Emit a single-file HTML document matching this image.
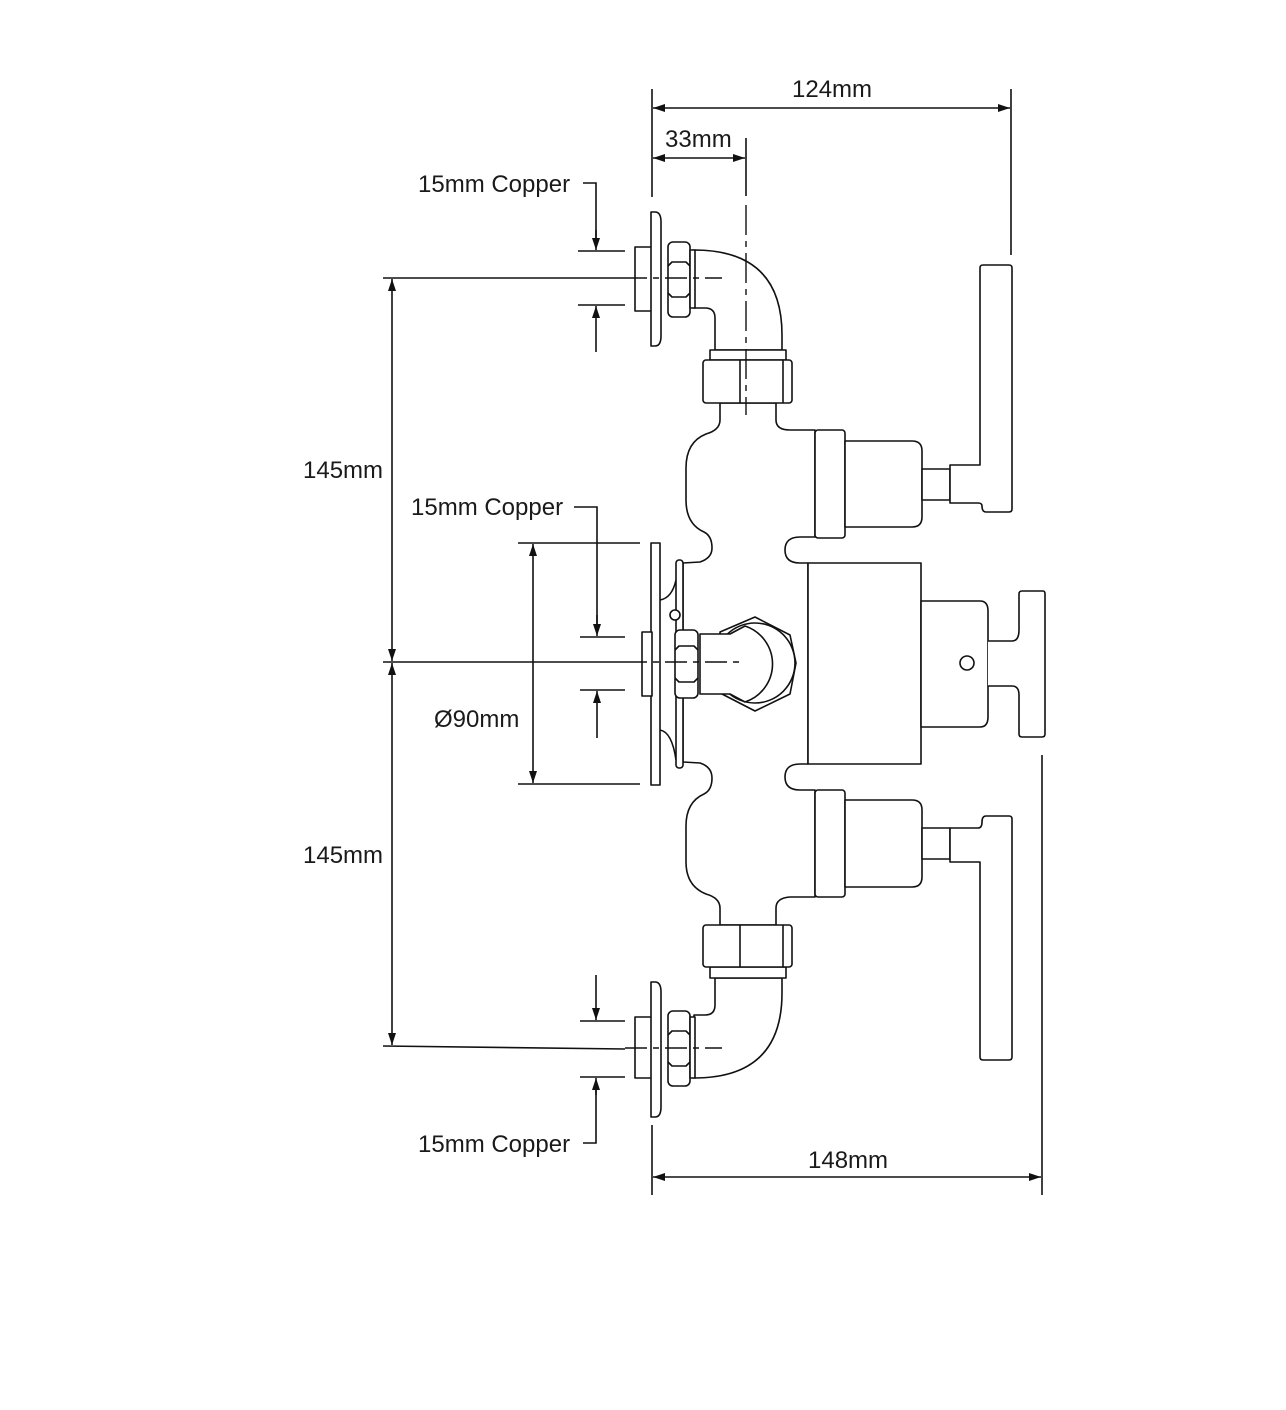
<!DOCTYPE html>
<html><head><meta charset="utf-8"><style>
html,body{margin:0;padding:0;background:#fff;}
svg{display:block}
text{font-family:"Liberation Sans",sans-serif;font-size:24px;fill:#1a1a1a}
</style></head><body>
<svg width="1286" height="1410" viewBox="0 0 1286 1410" xmlns="http://www.w3.org/2000/svg">
<defs>
<marker id="a" viewBox="0 0 12 8" refX="12" refY="4" markerWidth="12" markerHeight="8" orient="auto-start-reverse" markerUnits="userSpaceOnUse"><path d="M0,0 L12,4 L0,8 z" fill="#111"/></marker>
</defs>
<g fill="none" stroke="#111" stroke-width="1.6">
<line x1="652" y1="89" x2="652" y2="197"/>
<line x1="1011" y1="89" x2="1011" y2="255"/>
<line x1="653" y1="108" x2="1010" y2="108" marker-start="url(#a)" marker-end="url(#a)"/>
<line x1="746" y1="138" x2="746" y2="196"/>
<line x1="653" y1="158" x2="745" y2="158" marker-start="url(#a)" marker-end="url(#a)"/>
<line x1="652" y1="1125" x2="652" y2="1195"/>
<line x1="1042" y1="755" x2="1042" y2="1195"/>
<line x1="653" y1="1177" x2="1041" y2="1177" marker-start="url(#a)" marker-end="url(#a)"/>
<line x1="383" y1="278" x2="625" y2="278"/>
<line x1="383" y1="662" x2="625" y2="662"/>
<line x1="383" y1="1046" x2="625" y2="1049"/>
<line x1="392" y1="279" x2="392" y2="661" marker-start="url(#a)" marker-end="url(#a)"/>
<line x1="392" y1="663" x2="392" y2="1045" marker-start="url(#a)" marker-end="url(#a)"/>
<line x1="518" y1="543" x2="640" y2="543"/>
<line x1="518" y1="784" x2="640" y2="784"/>
<line x1="533" y1="544" x2="533" y2="783" marker-start="url(#a)" marker-end="url(#a)"/>
<polyline points="583,183 596,183 596,240"/>
<line x1="596" y1="230" x2="596" y2="250" marker-end="url(#a)"/>
<line x1="578" y1="251" x2="625" y2="251"/><line x1="578" y1="305" x2="625" y2="305"/>
<line x1="596" y1="352" x2="596" y2="306" marker-end="url(#a)"/>
<polyline points="574,507 597,507 597,625"/>
<line x1="597" y1="615" x2="597" y2="636" marker-end="url(#a)"/>
<line x1="580" y1="637" x2="625" y2="637"/><line x1="580" y1="690" x2="625" y2="690"/>
<line x1="597" y1="738" x2="597" y2="691" marker-end="url(#a)"/>
<polyline points="583,1143 596,1143 596,1090"/>
<line x1="596" y1="1095" x2="596" y2="1078" marker-end="url(#a)"/>
<line x1="580" y1="1021" x2="625" y2="1021"/><line x1="580" y1="1077" x2="625" y2="1077"/>
<line x1="596" y1="975" x2="596" y2="1020" marker-end="url(#a)"/>
</g>
<g fill="#fff" stroke="#111" stroke-width="1.6" stroke-linejoin="round">
<path d="M720,403 V420 Q720,430 706,434 Q686,442 686,468 V500 Q686,524 704,532 Q712,536 712,548 Q712,558 700,562 L683,563 V762 L700,763 Q712,767 712,778 Q712,790 704,794 Q686,802 686,826 V862 Q686,886 706,894 Q720,898 720,908 V925 H776 V908 Q776,898 790,897 H815 V790 H800 Q785,790 785,777 Q785,764 800,764 H808 V563 H800 Q785,563 785,550 Q785,537 800,537 H815 V430 H790 Q776,430 776,420 V403 Z"/>
<rect x="815" y="430" width="30" height="108" rx="3"/>
<path d="M845,441 H912 Q922,441 922,451 V517 Q922,527 912,527 H845 Z"/>
<rect x="922" y="469" width="28" height="31"/>
<path d="M950,465 H980 V268 Q980,265 983,265 H1009 Q1012,265 1012,268 V509 Q1012,512 1009,512 H986 Q982,512 982,506 Q982,503 978,503 H950 Z"/>
<rect x="815" y="790" width="30" height="107" rx="3"/>
<path d="M845,800 H912 Q922,800 922,810 V877 Q922,887 912,887 H845 Z"/>
<rect x="922" y="828" width="28" height="31"/>
<path d="M950,828 H978 Q982,828 982,822 Q982,816 986,816 H1009 Q1012,816 1012,819 V1057 Q1012,1060 1009,1060 H983 Q980,1060 980,1057 V862 H950 Z"/>
<rect x="808" y="563" width="113" height="201"/>
<path d="M921,601 H980 Q988,601 988,611 V717 Q988,727 980,727 H921 Z"/>
<path d="M988,641 H1012 Q1019,641 1019,630 V594 Q1019,591 1022,591 H1043 Q1045,591 1045,594 V734 Q1045,737 1042,737 H1022 Q1019,737 1019,734 V695 Q1019,686 1012,686 H988"/>
<circle cx="967" cy="663" r="7"/>
<path d="M694,250 Q782,250 782,335 V350 H715 V318 Q715,308 705,308 H694 Z"/>
<rect x="710" y="350" width="76" height="10"/>
<rect x="703" y="360" width="89" height="43" rx="3"/>
<line x1="740" y1="360" x2="740" y2="403"/><line x1="783" y1="360" x2="783" y2="403"/>
<rect x="635" y="247" width="17" height="64"/>
<path d="M651,212 H655 Q661,212 661,222 V336 Q661,346 655,346 H651 Z"/>
<rect x="668" y="242" width="22" height="75" rx="5"/>
<path d="M668,266 L672,262 H686 L690,266 M668,293 L672,297 H686 L690,293" fill="none"/>
<rect x="690" y="250" width="5" height="58"/>
<path d="M694,1078 Q782,1078 782,993 V978 H715 V1005 Q715,1015 705,1015 H694 Z"/>
<rect x="710" y="967" width="76" height="11"/>
<rect x="703" y="925" width="89" height="42" rx="3"/>
<line x1="740" y1="925" x2="740" y2="967"/><line x1="783" y1="925" x2="783" y2="967"/>
<rect x="635" y="1017" width="17" height="61"/>
<path d="M651,982 H655 Q661,982 661,992 V1107 Q661,1117 655,1117 H651 Z"/>
<rect x="668" y="1011" width="22" height="75" rx="5"/>
<path d="M668,1035 L672,1031 H686 L690,1035 M668,1062 L672,1066 H686 L690,1062" fill="none"/>
<rect x="690" y="1017" width="5" height="61"/>
<path d="M660,600 Q672,598 676,580 M660,730 Q672,732 676,760" fill="none"/>
<path d="M651,543 H660 V785 H651 Z"/>
<rect x="676" y="560" width="7" height="208" rx="3"/>
<path d="M755,617 L790,635 L796,663 L790,694 L755,711 L722,694 L720,632 Z"/>
<circle cx="755" cy="663" r="40"/>
<path d="M700,634 H730 Q730,634 745,626 A40,40 0 0 1 745,702 L730,694 H700 Z"/>
<rect x="642" y="632" width="10" height="64"/>
<rect x="675" y="630" width="23" height="68" rx="5"/>
<path d="M675,650 L679,646 H694 L698,650 M675,678 L679,682 H694 L698,678" fill="none"/>
<circle cx="675" cy="615" r="5"/>
</g>
<g stroke="#111" stroke-width="1.4" fill="none">
<line x1="625" y1="662" x2="742" y2="662" stroke-dasharray="22,6,6,6"/>
<line x1="625" y1="278" x2="722" y2="278" stroke-dasharray="22,6,6,6"/>
<line x1="625" y1="1048" x2="722" y2="1048" stroke-dasharray="22,6,6,6"/>
<line x1="746" y1="205" x2="746" y2="415" stroke-dasharray="30,6,6,6"/>
</g>
<text x="792" y="97">124mm</text>
<text x="665" y="147">33mm</text>
<text x="418" y="192">15mm Copper</text>
<text x="411" y="515">15mm Copper</text>
<text x="418" y="1152">15mm Copper</text>
<text x="303" y="478">145mm</text>
<text x="303" y="863">145mm</text>
<text x="434" y="727">Ø90mm</text>
<text x="808" y="1168">148mm</text>
</svg>
</body></html>
